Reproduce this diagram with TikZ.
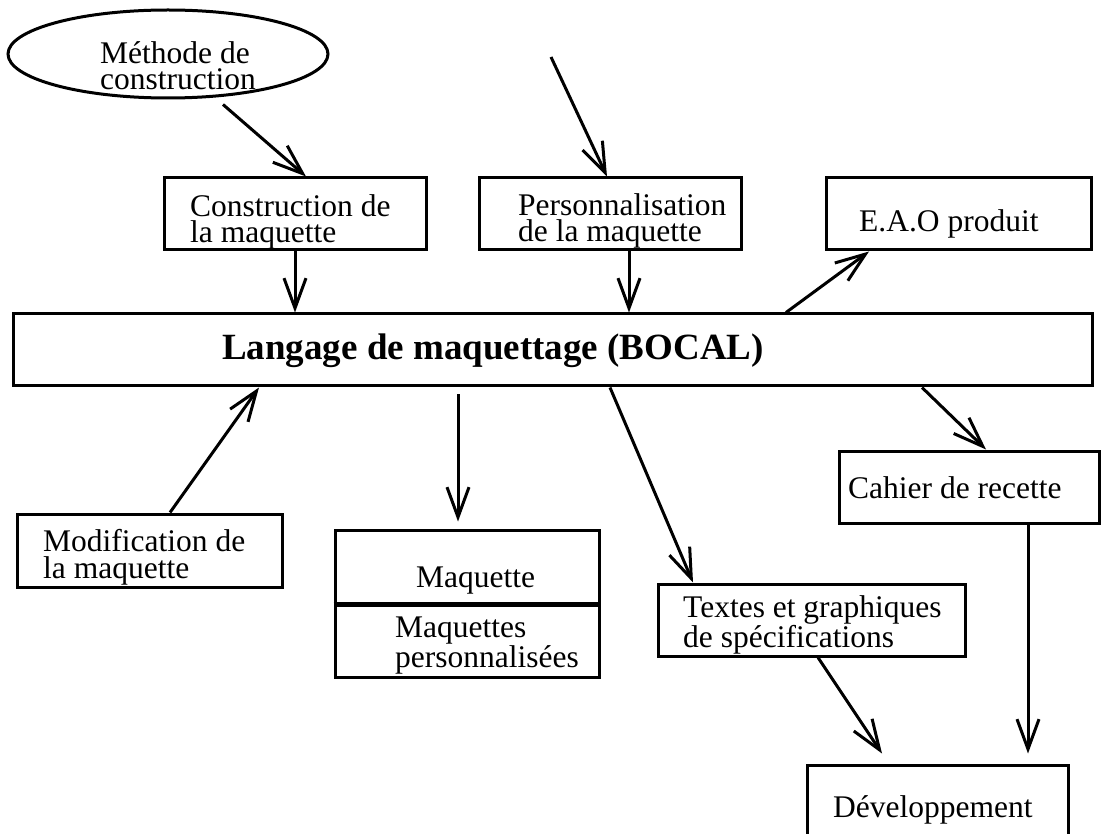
\documentclass[tikz,border=0pt]{standalone}
\usepackage{fontspec}
\setmainfont{Liberation Serif}
\usetikzlibrary{arrows.meta,shapes.geometric}
\begin{document}
\begin{tikzpicture}[x=1pt,y=-1pt,
  box/.style={draw, line width=3pt, rectangle, inner sep=0pt},
  txt/.style={anchor=base west, inner sep=0pt, align=left, font=\fontsize{31.5}{26.5}\selectfont},
  bigtxt/.style={anchor=base west, inner sep=0pt, font=\fontsize{37}{38}\selectfont\bfseries},
  arr/.style={line width=3pt, -{Straight Barb[length=30pt,width=22pt]}}]
\useasboundingbox (0,0) rectangle (1101,834);

% shapes
\node[draw, line width=3pt, ellipse, minimum width=320pt, minimum height=88pt, inner sep=0pt] (meth) at (168,54) {};
\node[box, minimum width=262pt, minimum height=72pt] (cons) at (295,214) {};
\node[box, minimum width=262pt, minimum height=72pt] (pers) at (610,214) {};
\node[box, minimum width=265pt, minimum height=72pt] (eao) at (958.5,214) {};
\node[box, minimum width=1079pt, minimum height=72pt] (bocal) at (552.5,350) {};
\node[box, minimum width=265pt, minimum height=73pt] (modif) at (149.5,550.5) {};
\node[box, minimum width=264pt, minimum height=73pt] (maq) at (467,566.5) {};
\node[box, minimum width=264pt, minimum height=74pt] (maqp) at (467,640) {};
\node[box, minimum width=260pt, minimum height=72pt] (cahier) at (969,487) {};
\node[box, minimum width=307pt, minimum height=72pt] (textes) at (811.5,620) {};
\node[box, minimum width=261pt, minimum height=80pt] (dev) at (937.5,805) {};
\draw[line width=5pt] (maq.south west) -- (maq.south east);
\coordinate (free) at (551,57);

% texts (base anchor = baseline of the last line)
\node[txt] (t1) at (100,90) {Méthode de\\construction};
\node[txt] (t2) at (190,243) {Construction de\\la maquette};
\node[txt] (t3) at (518,242) {Personnalisation\\de la maquette};
\node[txt] (t4) at (859,232) {E.A.O produit};
\node[bigtxt] (t5) at (222,360) {Langage de maquettage (BOCAL)};
\node[txt] (t6) at (43,578) {Modification de\\la maquette};
\node[txt] (t7) at (416,587) {Maquette};
\node[txt] (t8) at (395,667) {Maquettes\\personnalisées};
\node[txt] (t9) at (848,498) {Cahier de recette};
\node[txt] (t10) at (683,647) {Textes et graphiques\\de spécifications};
\node[txt] (t11) at (833,817) {Développement};

% connectors
\draw[arr] ([xshift=55pt,yshift=-5pt]meth.south) -- ([xshift=11pt]cons.north);
\draw[arr] (free) -- ([xshift=-3pt]pers.north);
\draw[arr] (cons.south) -- ([xshift=-257.5pt]bocal.north);
\draw[arr] ([xshift=19pt]pers.south) -- ([xshift=76.5pt]bocal.north);
\draw[arr] ([xshift=233.5pt]bocal.north) -- ([xshift=-89.5pt]eao.south);
\draw[arr] ([xshift=20.5pt]modif.north) -- ([xshift=-293.5pt]bocal.south);
\draw[arr] ([xshift=-94.5pt,yshift=-7pt]bocal.south) -- ([xshift=-9pt,yshift=7pt]maq.north);
\draw[arr] ([xshift=57.5pt]bocal.south) -- ([xshift=-118.5pt]textes.north);
\draw[arr] ([xshift=369.5pt]bocal.south) -- ([xshift=17pt]cahier.north);
\draw[arr] ([xshift=59pt]cahier.south) -- ([xshift=90.5pt,yshift=10pt]dev.north);
\draw[arr] ([xshift=6.5pt]textes.south) -- ([xshift=-55.5pt,yshift=10pt]dev.north);
\end{tikzpicture}
\end{document}
